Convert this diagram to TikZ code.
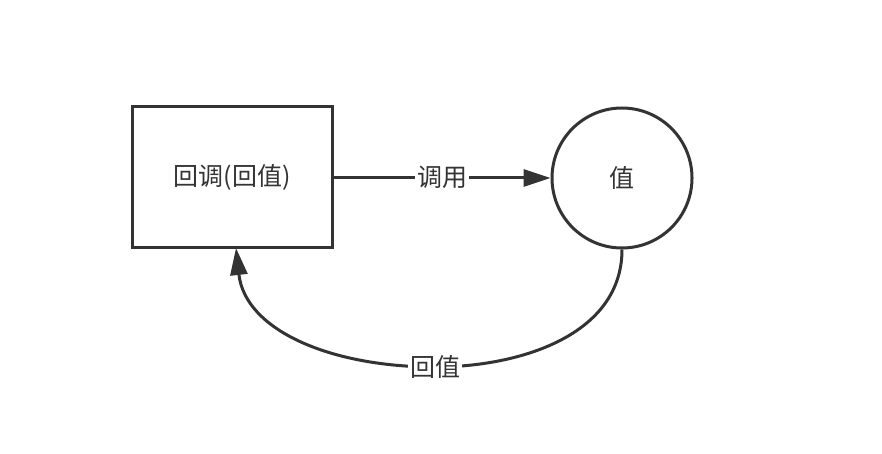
\documentclass[tikz,border=0pt]{standalone}
\usepackage{fontspec}
\setmainfont{Noto Sans CJK SC}
\usetikzlibrary{arrows.meta}
\definecolor{ink}{HTML}{333333}
\begin{document}
\begin{tikzpicture}[x=1pt,y=-1pt,
  line width=3pt, draw=ink,
  every node/.style={text=ink,font=\fontsize{25}{28}\selectfont},
  box/.style={draw=ink,line width=3pt,minimum width=200pt,minimum height=140pt,inner sep=0pt},
  ball/.style={draw=ink,line width=3pt,circle,minimum size=140pt,inner sep=0pt},
  lbl/.style={fill=white,inner sep=2pt},
  arr/.style={draw=ink,line width=3pt,-{Triangle[length=27pt,width=17pt]}}]
\useasboundingbox (0,0) rectangle (882,454);
\node[box] (cb) at (232,177) {回调(回值)};
\node[ball] (val) at (622,178) {值};
\coordinate (tip) at (236,248);
\draw[arr] (cb.east |- val.west) -- node[lbl,yshift=1pt] (call) {调用} (val.west);
\draw[arr] (val.south) .. controls (622,335) and (520,367) .. (435,367)
  node[lbl] (ret) {回值}
  .. controls (330,367) and (245,330) .. (tip);
\end{tikzpicture}
\end{document}
